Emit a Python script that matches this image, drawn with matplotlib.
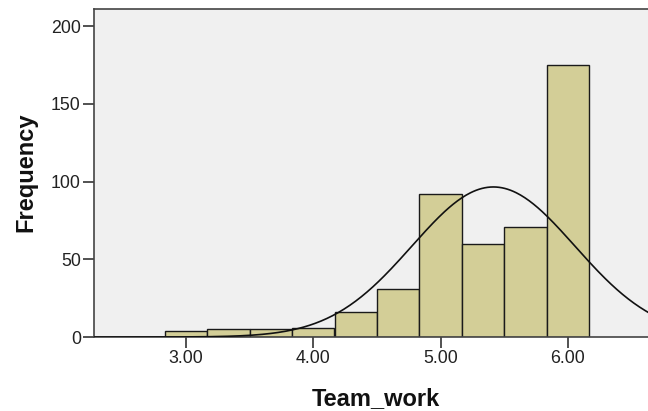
import numpy as np
import matplotlib
matplotlib.use("Agg")
import matplotlib.pyplot as plt

# histogram of Team_work
bin_lefts = [2.833, 3.167, 3.500, 3.833, 4.167, 4.500, 4.833, 5.167, 5.500, 5.833]
bin_width = 0.333
counts = [4, 5, 5, 6, 16, 31, 92, 60, 71, 175]
# normal curve parameters
mean_tw = 5.415
sd_tw = 0.64

xticks = [3.0, 4.0, 5.0, 6.0]
xtick_labels = ["3.00", "4.00", "5.00", "6.00"]
yticks = [0, 50, 100, 150, 200]

plt.rcParams['font.family'] = ['Liberation Sans', 'DejaVu Sans']

fig = plt.figure(figsize=(6.48, 4.11), dpi=100)
ax = fig.add_axes([0.145, 0.18, 0.855, 0.797])
ax.set_facecolor('#f0f0f0')

ax.bar(bin_lefts, counts, width=bin_width, align='edge',
       color='#d3ce97', edgecolor='#1a1a1a', linewidth=1.0, zorder=2)

n_total = sum(counts)
xs = np.linspace(2.2, 6.7, 400)
ys = n_total * bin_width / (sd_tw * np.sqrt(2 * np.pi)) * np.exp(-0.5 * ((xs - mean_tw) / sd_tw) ** 2)
ax.plot(xs, ys, color='#111111', linewidth=1.2, zorder=3)

ax.set_xlim(2.276, 6.63)
ax.set_ylim(0, 210.7)
ax.set_xticks(xticks)
ax.set_xticklabels(xtick_labels)
ax.set_yticks(yticks)
ax.tick_params(axis='both', direction='out', length=8, width=1.2, colors='#333333',
               labelsize=12.8, labelcolor='#222222', pad=1.5)

for side in ['left', 'bottom', 'top']:
    ax.spines[side].set_color('#444444')
    ax.spines[side].set_linewidth(1.2)
ax.spines['right'].set_visible(False)

fig.text(0.5795, 0.0146, 'Team_work', fontsize=17, fontweight='bold',
         ha='center', va='baseline', color='#111111')
fig.text(0.0394, 0.5815, 'Frequency', fontsize=17, fontweight='bold',
         ha='center', va='center', rotation=90, color='#111111')

fig.savefig('out.png', dpi=100)
